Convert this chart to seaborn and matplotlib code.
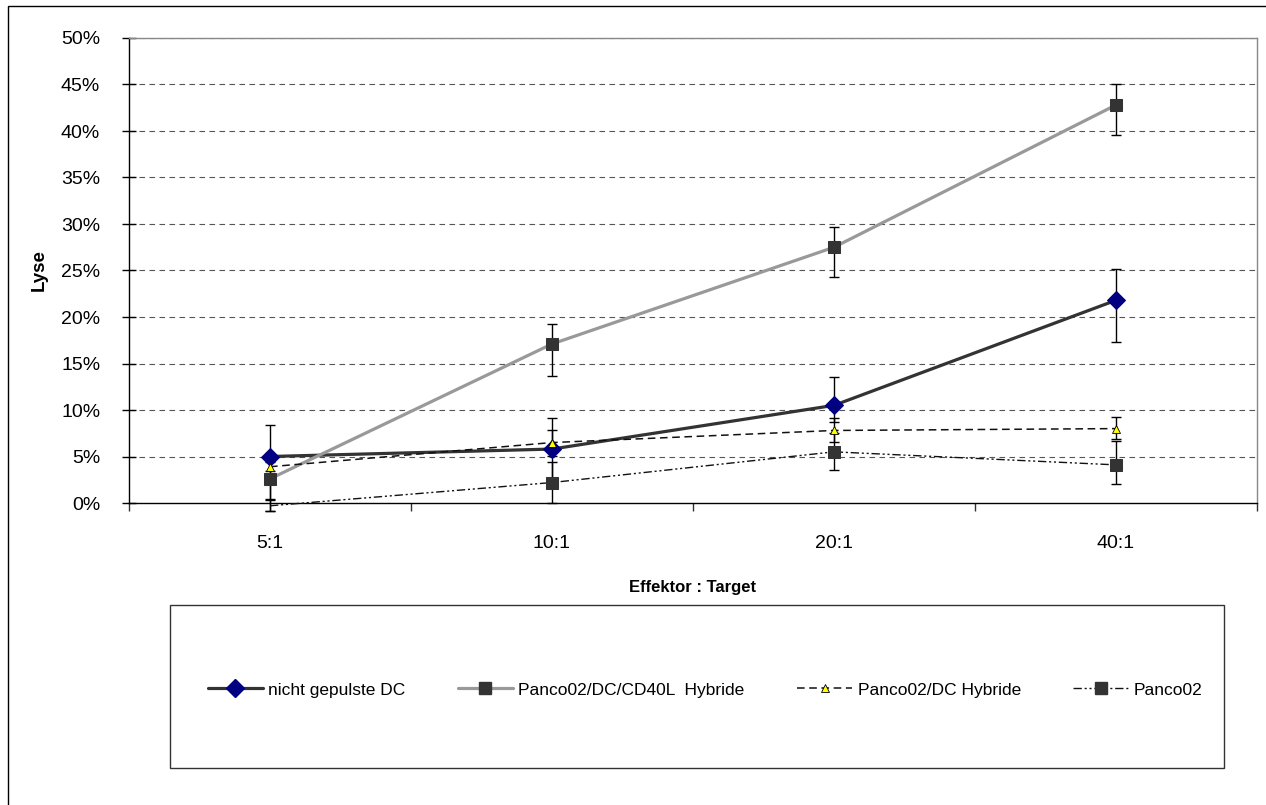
import numpy as np
import pandas as pd
import seaborn as sns
import matplotlib.pyplot as plt
from matplotlib.lines import Line2D
from matplotlib.patches import Rectangle

# data (Lyse in %)
ratios = ["5:1", "10:1", "20:1", "40:1"]

dc_mean = [5.0, 5.8, 10.5, 21.8]
dc_lo = [5.9, 4.2, 1.8, 4.5]
dc_hi = [3.4, 3.3, 3.1, 3.4]

cd40_mean = [2.6, 17.1, 27.5, 42.8]
cd40_lo = [2.2, 3.4, 3.2, 3.2]
cd40_hi = [2.2, 2.1, 2.2, 2.3]

hyb_mean = [3.9, 6.5, 7.8, 8.0]
hyb_lo = [0.5, 1.4, 1.2, 1.1]
hyb_hi = [0.5, 1.4, 1.3, 1.2]

panc_mean = [-0.3, 2.2, 5.5, 4.1]
panc_lo = [0.6, 2.2, 2.0, 2.1]
panc_hi = [0.6, 2.2, 2.0, 2.6]

names = ["nicht gepulste DC", "Panco02/DC/CD40L  Hybride",
         "Panco02/DC Hybride", "Panco02"]

sns.set_theme(style="white")
plt.rcParams['font.family'] = ['Liberation Sans', 'DejaVu Sans']
plt.rcParams.update({"text.color": "black", "axes.labelcolor": "black",
                     "xtick.color": "black", "ytick.color": "black"})

series = {
    names[0]: (dc_mean, dc_lo, dc_hi),
    names[1]: (cd40_mean, cd40_lo, cd40_hi),
    names[2]: (hyb_mean, hyb_lo, hyb_hi),
    names[3]: (panc_mean, panc_lo, panc_hi),
}

styles = {
    names[0]: dict(color="#333333", lw=2.3, ls="-", marker="D", markersize=9,
                   markerfacecolor="#000080", markeredgecolor="#000080"),
    names[1]: dict(color="#999999", lw=2.3, ls="-", marker="s", markersize=8.5,
                   markerfacecolor="#333333", markeredgecolor="#333333"),
    names[2]: dict(color="#111111", lw=1.1, ls=(0, (5, 3)), marker="^", markersize=6,
                   markerfacecolor="#ffff00", markeredgecolor="#000000", markeredgewidth=0.6),
    names[3]: dict(color="#111111", lw=1.0, ls=(0, (6, 2, 1.5, 2, 1.5, 2)), marker="s",
                   markersize=8.5, markerfacecolor="#333333", markeredgecolor="#333333"),
}

rows = []
for name, (m, lo, hi) in series.items():
    for i, r in enumerate(ratios):
        rows.append({"serie": name, "pos": i, "ratio": r, "lyse": m[i],
                     "lo": lo[i], "hi": hi[i]})
df = pd.DataFrame(rows)

fig = plt.figure(figsize=(12.66, 8.05), dpi=100)
ax = fig.add_axes([129 / 1266, 1 - 503 / 805, 1128 / 1266, 465 / 805])

# dashed grid
for v in range(5, 55, 5):
    ax.axhline(v, color="#555555", lw=0.8, ls=(0, (5, 4)), zorder=0)

for name in names:
    d = df[df.serie == name]
    ax.errorbar(d["pos"], d["lyse"], yerr=[d["lo"], d["hi"]], fmt="none",
                ecolor="black", elinewidth=1, capsize=3.5, capthick=1,
                zorder=2, clip_on=False)

for name in names:
    d = df[df.serie == name]
    st = dict(styles[name])
    if name == "Panco02":
        st["markevery"] = [1, 2, 3]  # 5:1 point lies below 0 -> no marker
    sns.lineplot(data=d, x="pos", y="lyse", ax=ax, sort=False, legend=False,
                 zorder=3, clip_on=False, **st)

ax.set_xlim(-0.5, 3.5)
ax.set_ylim(0, 50)
ax.set_xticks(range(len(ratios)))
ax.set_xticklabels(ratios)
ax.set_xticks(np.arange(-0.5, 4, 1), minor=True)
ax.set_yticks(range(0, 55, 5))
ax.set_yticklabels([f"{v}%" for v in range(0, 55, 5)])

ax.tick_params(axis="x", which="major", length=0, pad=23, labelsize=14)
ax.tick_params(axis="x", which="minor", direction="out", length=6, width=1,
               color="#333333", bottom=True)
ax.tick_params(axis="y", which="major", direction="inout", length=9.5, width=1,
               color="black", left=True, pad=16, labelsize=14)

for s in ["left", "bottom"]:
    ax.spines[s].set_color("black")
    ax.spines[s].set_linewidth(1)
for s in ["top", "right"]:
    ax.spines[s].set_color("#888888")
    ax.spines[s].set_linewidth(1)

ax.set_xlabel("Effektor : Target", fontsize=12, fontweight="bold")
ax.set_ylabel("Lyse", fontsize=13.5, fontweight="bold")
ax.xaxis.set_label_coords(0.5, -0.166)
ax.yaxis.set_label_coords(-0.072, 0.5)

# legend box
fig.patches.append(Rectangle((170 / 1266, 1 - 768 / 805), 1054 / 1266, 163 / 805,
                             transform=fig.transFigure, fill=False,
                             edgecolor="#333333", lw=1))
handles = []
for name in names:
    st = styles[name]
    handles.append(Line2D([], [], **st))
fig.legend(handles, names, loc="center", bbox_to_anchor=(705 / 1266, 1 - 690 / 805),
           ncol=4, frameon=False, fontsize=12.5, handlelength=3.2,
           handletextpad=0.3, columnspacing=3.0)

# outer chart border
fig.patches.append(Rectangle((8 / 1266, -0.05), 1.2, 1 - 6 / 805 + 0.05,
                             transform=fig.transFigure, fill=False,
                             edgecolor="black", lw=1))

fig.savefig("out.png", dpi=100)
